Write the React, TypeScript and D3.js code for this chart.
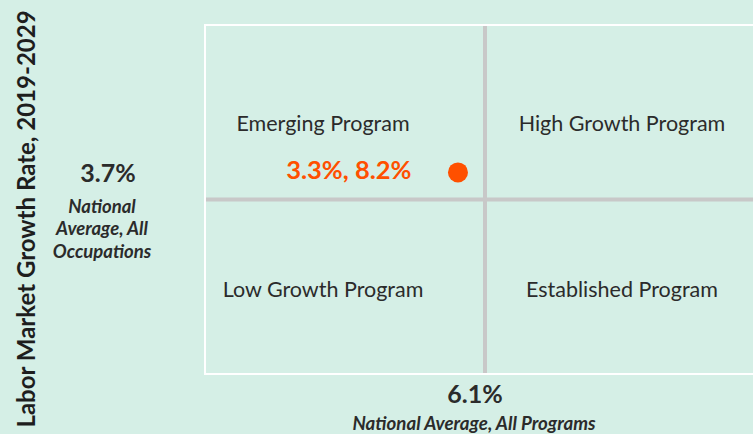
import React from "react";
import * as d3 from "d3";

const W = 753;
const H = 434;

// Data
const pointLabels = ["Program"];
const xValues = [3.3]; // program growth
const yValues = [8.2]; // labor market growth
const xAverage = 6.1;
const yAverage = 3.7;
const xAverageLabel = "National Average, All Programs";
const yAverageLabelLines = ["National", "Average, All", "Occupations"];
const yAxisTitle = "Labor Market Growth Rate, 2019-2029";
const quadrantNames = ["Emerging Program", "High Growth Program", "Low Growth Program", "Established Program"];
const quadrantCols = [0, 1, 0, 1];
const quadrantRows = [0, 0, 1, 1];

const BG = "#d5efe6";
const TEXT = "#2b2b2b";
const ORANGE = "#ff5000";
const GRID = "#c8c8c8";
const FONT = "Lato, 'Noto Sans', sans-serif";

export default function App() {
  const left = 205;
  const right = 765;
  const top = 25;
  const bottom = 374;
  const span = 29;
  const x = d3.scaleLinear().domain([xAverage - span, xAverage + span]).range([left, right]);
  const y = d3.scaleLinear().domain([yAverage - span, yAverage + span]).range([bottom, top]);
  const cx = x(xAverage);
  const cy = y(yAverage);

  const colX = [cx - 162, cx + 137];
  const rowY = [cy - 69, cy + 97];

  return (
    <svg
      width={W}
      height={H}
      style={{ position: "absolute", left: 0, top: 0, background: BG }}
      fontFamily={FONT}
    >
      <rect x={0} y={0} width={W} height={H} fill={BG} />
      {/* plot frame */}
      <rect x={left} y={top} width={right - left} height={bottom - top} fill="none" stroke="#ffffff" strokeWidth={2} />
      {/* cross lines */}
      <line x1={left + 1} x2={right} y1={cy} y2={cy} stroke={GRID} strokeWidth={4} />
      <line x1={cx} x2={cx} y1={top + 1} y2={bottom - 1} stroke={GRID} strokeWidth={4} />

      {quadrantNames.map((q, i) => (
        <text
          key={q}
          x={colX[quadrantCols[i]]}
          y={rowY[quadrantRows[i]]}
          textAnchor="middle"
          fontSize={21.5}
          fill={TEXT}
        >
          {q}
        </text>
      ))}

      {pointLabels.map((p, i) => (
        <g key={p}>
          <circle cx={x(xValues[i])} cy={y(yValues[i])} r={10} fill={ORANGE} />
          <text
            x={x(xValues[i]) - 46.5}
            y={y(yValues[i]) + 7}
            textAnchor="end"
            fontSize={25.5}
            fontWeight={700}
            fill={ORANGE}
          >
            {`${xValues[i]}%, ${yValues[i]}%`}
          </text>
        </g>
      ))}

      {/* y average */}
      <text x={108} y={cy - 18} textAnchor="middle" fontSize={25} fontWeight={700} fill={TEXT}>
        {`${yAverage}%`}
      </text>
      {yAverageLabelLines.map((l, i) => (
        <text
          key={l}
          x={102}
          y={cy + 13 + i * 22.5}
          textAnchor="middle"
          fontSize={18.5}
          fontWeight={700}
          fontStyle="italic"
          fill={TEXT}
        >
          {l}
        </text>
      ))}

      {/* x average */}
      <text x={cx - 10} y={bottom + 29} textAnchor="middle" fontSize={25} fontWeight={700} fill={TEXT}>
        {`${xAverage}%`}
      </text>
      <text x={cx - 11} y={bottom + 56} textAnchor="middle" fontSize={18.7} fontWeight={700} fontStyle="italic" fill={TEXT}>
        {xAverageLabel}
      </text>

      {/* y axis title */}
      <text
        transform={`translate(35, 219) rotate(-90)`}
        textAnchor="middle"
        fontSize={24}
        fontWeight={700}
        fill="#1e1e1e"
      >
        {yAxisTitle}
      </text>
    </svg>
  );
}
